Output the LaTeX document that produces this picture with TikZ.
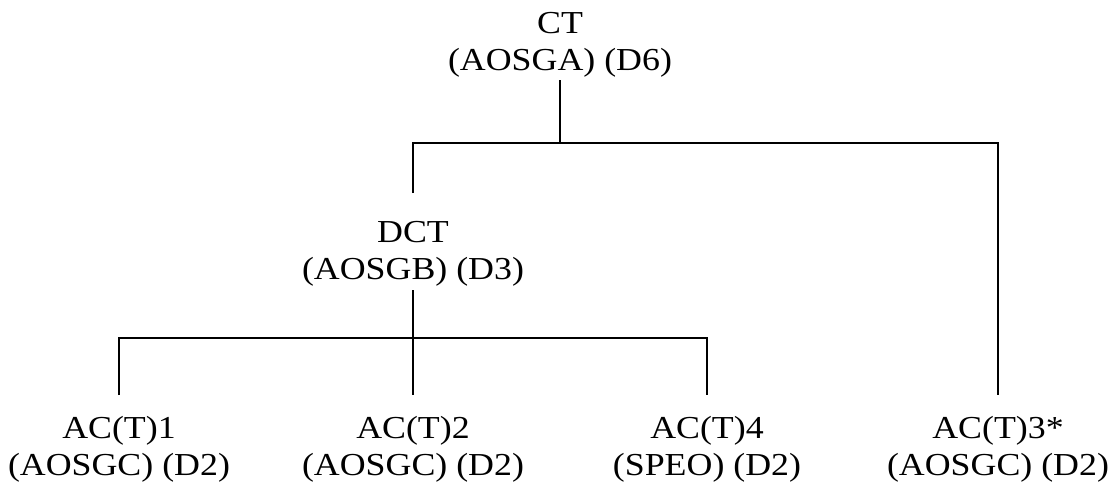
\documentclass[tikz,border=0pt]{standalone}
\usepackage{fontspec}
\setmainfont{Liberation Serif}[FakeStretch=1.12]
\begin{document}
\begin{tikzpicture}[x=1pt,y=-1pt,
  lbl/.style={align=center,inner sep=0pt,outer sep=0pt,font=\fontsize{32}{37}\selectfont},
  edge/.style={line width=2.3pt,draw=black}]
\useasboundingbox (0,0) rectangle (1115,491);
\node[lbl] (ct)  at (560,44.5) {CT\\(AOSGA) (D6)};
\node[lbl] (dct) at (413,254) {DCT\\(AOSGB) (D3)};
\node[lbl] (ac1) at (119,449.5) {AC(T)1\\(AOSGC) (D2)};
\node[lbl] (ac2) at (413,449.5) {AC(T)2\\(AOSGC) (D2)};
\node[lbl] (ac4) at (707,449.5) {AC(T)4\\(SPEO) (D2)};
\node[lbl] (ac3) at (998,449.5) {AC(T)3*\\(AOSGC) (D2)};
\coordinate (bar1) at (561,143);
\coordinate (bar2) at (413,338);
\draw[edge] (ct.south |- 0,80) -- (ct.south |- bar1);
\draw[edge] (dct.north |- 0,193) |- (bar1) -| (ac3.north |- 0,395);
\draw[edge] (dct.south |- 0,290) -- (ac2.north |- 0,395);
\draw[edge] (ac1.north |- 0,395) |- (bar2) -| (ac4.north |- 0,395);
\end{tikzpicture}
\end{document}
